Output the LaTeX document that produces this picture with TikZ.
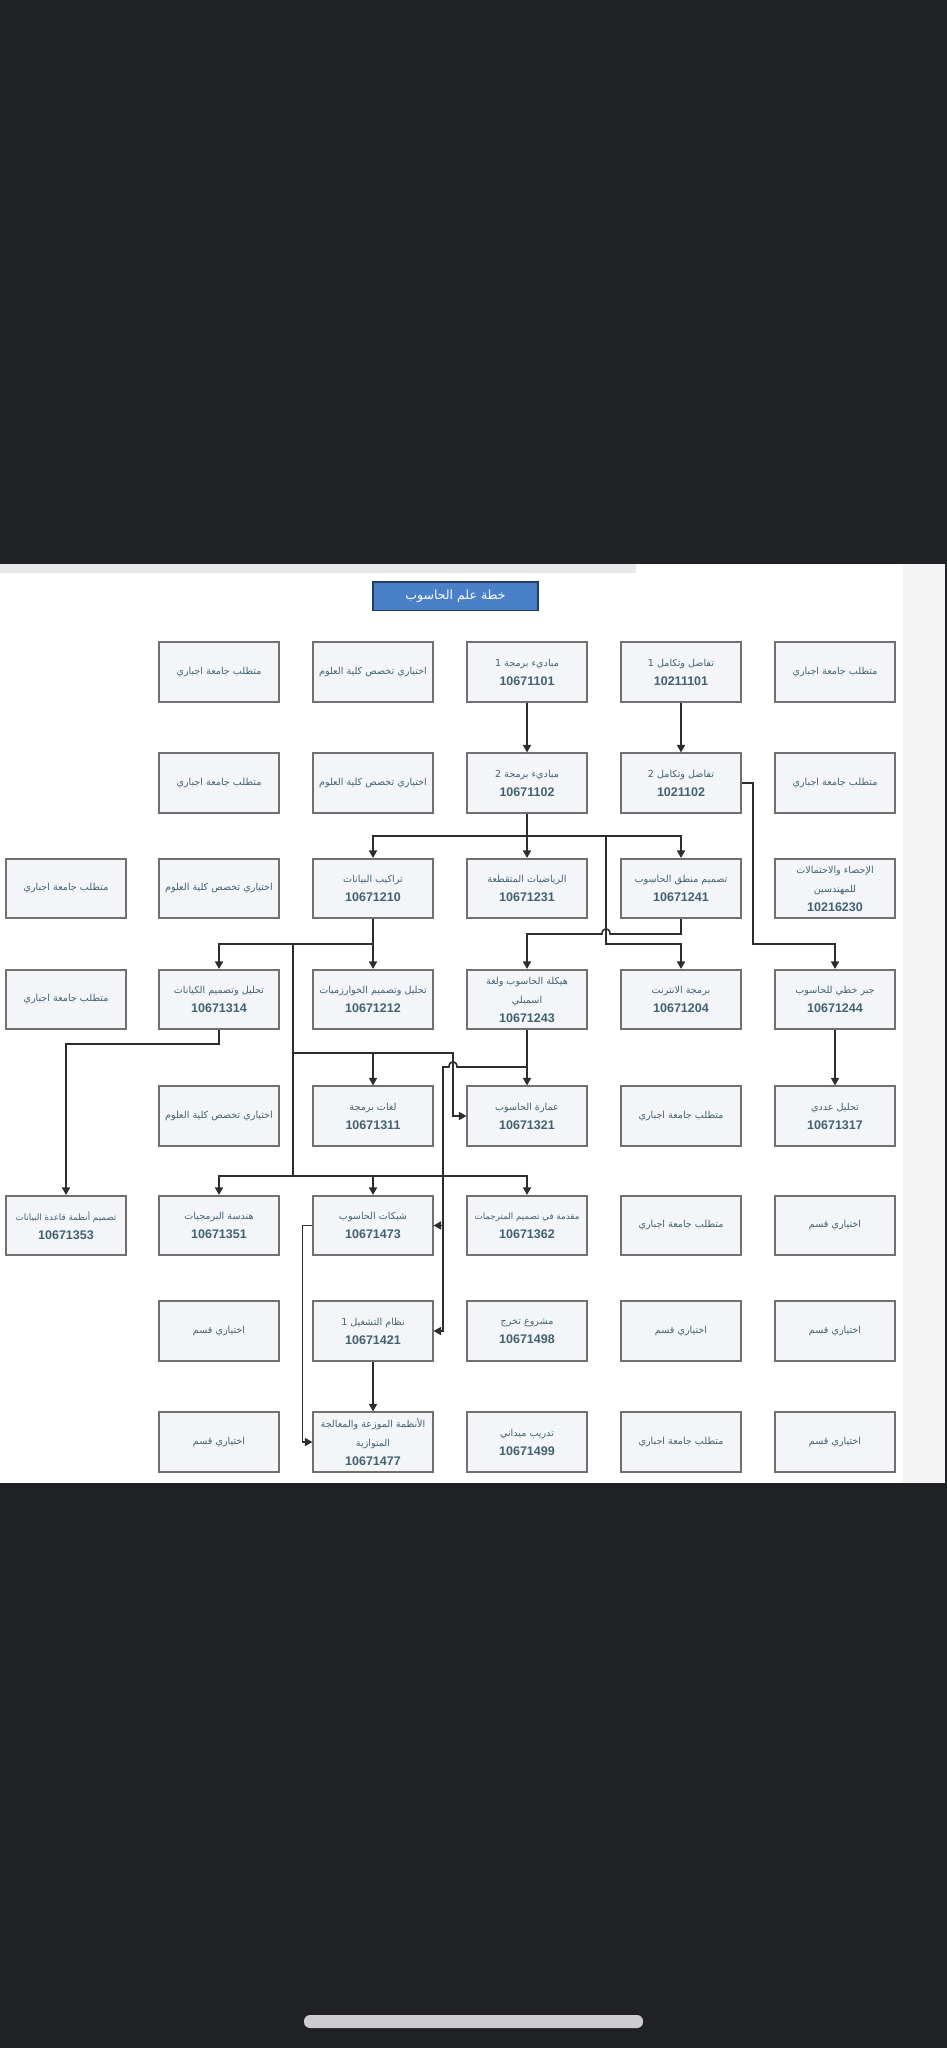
\documentclass[tikz,border=0pt]{standalone}
\usepackage{fontspec}
\setmainfont{Liberation Sans}
\newfontfamily\arabicfont[Script=Arabic]{DejaVu Sans}
\TeXXeTstate=1
\usetikzlibrary{arrows.meta}

\definecolor{pagedark}{RGB}{32,33,36}
\definecolor{stripgray}{RGB}{244,244,244}
\definecolor{topgray}{RGB}{232,232,232}
\definecolor{homebar}{RGB}{205,205,208}
\definecolor{boxfill}{RGB}{243,245,249}
\definecolor{boxline}{RGB}{112,112,112}
\definecolor{coursetext}{RGB}{66,98,112}
\definecolor{titleblue}{RGB}{74,128,200}
\definecolor{titleline}{RGB}{40,58,96}
\definecolor{linkgray}{RGB}{45,45,45}

\newcommand{\artxt}[1]{{\arabicfont\fontsize{9.6}{19}\selectfont\beginR #1\endR}}
\newcommand{\artxtsm}[1]{{\arabicfont\fontsize{8.7}{19}\selectfont\beginR #1\endR}}
\newcommand{\cnum}[1]{{\bfseries #1}}

\begin{document}
\begin{tikzpicture}[
    x=1pt, y=-1pt,
    course/.style={rectangle, draw=boxline, line width=1.6pt, fill=boxfill, minimum width=119.5pt, minimum height=59.5pt, inner sep=0pt, align=center, text=coursetext, font=\fontsize{12.5}{19}\selectfont},
    plan/.style={rectangle, draw=titleline, line width=1.5pt, fill=titleblue, minimum width=165pt, minimum height=28.5pt, inner sep=0pt, text=white},
    link/.style={draw, -{Triangle[length=7.5pt, width=8pt]}, line width=1.6pt, color=linkgray},
    wire/.style={draw, line width=1.6pt, color=linkgray}
]
\useasboundingbox (0,0) rectangle (947,2048);
\fill [pagedark] (0,0) rectangle (947,2048);
\fill [white] (0,564) rectangle (945,1483);
\fill [stripgray] (903,564) rectangle (945,1483);
\fill [topgray] (0,564) rectangle (636,573);
\fill [homebar, rounded corners=6pt] (304,2015) rectangle (643,2028);

\node [plan] (title) at (455.5,596) {{\arabicfont\fontsize{12.5}{14}\selectfont\beginR خطة علم الحاسوب\endR}};

\node [course] (ureq1) at (219,672) {\artxt{متطلب جامعة اجباري}};
\node [course] (sci1) at (373,672) {\artxt{اختياري تخصص كلية العلوم}};
\node [course] (prog1) at (527,672) {\artxt{مباديء برمجة 1}\\\cnum{10671101}};
\node [course] (calc1) at (681,672) {\artxt{تفاضل وتكامل 1}\\\cnum{10211101}};
\node [course] (ureq2) at (835,672) {\artxt{متطلب جامعة اجباري}};

\node [course] (ureq3) at (219,783) {\artxt{متطلب جامعة اجباري}};
\node [course] (sci2) at (373,783) {\artxt{اختياري تخصص كلية العلوم}};
\node [course] (prog2) at (527,783) {\artxt{مباديء برمجة 2}\\\cnum{10671102}};
\node [course] (calc2) at (681,783) {\artxt{تفاضل وتكامل 2}\\\cnum{1021102}};
\node [course] (ureq4) at (835,783) {\artxt{متطلب جامعة اجباري}};

\node [course] (ureq5) at (66,888.5) {\artxt{متطلب جامعة اجباري}};
\node [course] (sci3) at (219,888.5) {\artxt{اختياري تخصص كلية العلوم}};
\node [course] (datastr) at (373,888.5) {\artxt{تراكيب البيانات}\\\cnum{10671210}};
\node [course] (discrete) at (527,888.5) {\artxt{الرياضيات المتقطعة}\\\cnum{10671231}};
\node [course] (logic) at (681,888.5) {\artxt{تصميم منطق الحاسوب}\\\cnum{10671241}};
\node [course] (stats) at (835,888.5) {\artxt{الإحصاء والاحتمالات}\\\artxt{للمهندسين}\\\cnum{10216230}};

\node [course] (ureq6) at (66,999.5) {\artxt{متطلب جامعة اجباري}};
\node [course] (entities) at (219,999.5) {\artxt{تحليل وتصميم الكيانات}\\\cnum{10671314}};
\node [course] (algo) at (373,999.5) {\artxt{تحليل وتصميم الخوارزميات}\\\cnum{10671212}};
\node [course] (asm) at (527,999.5) {\artxt{هيكلة الحاسوب ولغة}\\\artxt{اسمبلي}\\\cnum{10671243}};
\node [course] (web) at (681,999.5) {\artxt{برمجة الانترنت}\\\cnum{10671204}};
\node [course] (linalg) at (835,999.5) {\artxt{جبر خطي للحاسوب}\\\cnum{10671244}};

\node [course] (sci4) at (219,1116) {\artxt{اختياري تخصص كلية العلوم}};
\node [course] (langs) at (373,1116) {\artxt{لغات برمجة}\\\cnum{10671311}};
\node [course] (comparch) at (527,1116) {\artxt{عمارة الحاسوب}\\\cnum{10671321}};
\node [course] (ureq7) at (681,1116) {\artxt{متطلب جامعة اجباري}};
\node [course] (numeric) at (835,1116) {\artxt{تحليل عددي}\\\cnum{10671317}};

\node [course] (dbdesign) at (66,1225.5) {\artxtsm{تصميم أنظمة قاعدة البيانات}\\\cnum{10671353}};
\node [course] (softeng) at (219,1225.5) {\artxt{هندسة البرمجيات}\\\cnum{10671351}};
\node [course] (networks) at (373,1225.5) {\artxt{شبكات الحاسوب}\\\cnum{10671473}};
\node [course] (compilers) at (527,1225.5) {\artxtsm{مقدمة في تصميم المترجمات}\\\cnum{10671362}};
\node [course] (ureq8) at (681,1225.5) {\artxt{متطلب جامعة اجباري}};
\node [course] (dept1) at (835,1225.5) {\artxt{اختياري قسم}};

\node [course] (dept2) at (219,1331) {\artxt{اختياري قسم}};
\node [course] (os) at (373,1331) {\artxt{نظام التشغيل 1}\\\cnum{10671421}};
\node [course] (project) at (527,1331) {\artxt{مشروع تخرج}\\\cnum{10671498}};
\node [course] (dept3) at (681,1331) {\artxt{اختياري قسم}};
\node [course] (dept4) at (835,1331) {\artxt{اختياري قسم}};

\node [course] (dept5) at (219,1442) {\artxt{اختياري قسم}};
\node [course] (distrib) at (373,1442) {\artxt{الأنظمة الموزعة والمعالجة}\\\artxt{المتوازية}\\\cnum{10671477}};
\node [course] (training) at (527,1442) {\artxt{تدريب ميداني}\\\cnum{10671499}};
\node [course] (ureq9) at (681,1442) {\artxt{متطلب جامعة اجباري}};
\node [course] (dept6) at (835,1442) {\artxt{اختياري قسم}};

\coordinate (fork2) at (527,836);
\coordinate (fork2web) at (606,836);
\coordinate (bendweb) at (606,944);
\coordinate (bendlogic) at (681,934);
\coordinate (bendcalc) at (753,944);
\coordinate (fork3) at (373,944);
\coordinate (trunk) at (293,944);
\coordinate (trunklang) at (293,1053);
\coordinate (langsfork) at (373,1053);
\coordinate (bendarch) at (453,1116);
\coordinate (trunkbot) at (293,1176);
\coordinate (netfork) at (373,1176);
\coordinate (archfork) at (527,1067);
\coordinate (osline) at (443,1067);
\coordinate (netin) at (443,1225.5);

\path [link] (prog1) -- (prog2);
\path [link] (calc1) -- (calc2);
\path [link] (prog2) -- (discrete);
\path [link] (fork2) -| (datastr);
\path [link] (fork2) -| (logic);
\path [link] (fork2web) -- (bendweb) -| (web);
\path [link] (logic) -- (bendlogic) -- (610,934) .. controls (610,927) and (602,927) .. (602,934) -| (asm);
\path [link] (calc2) -| (bendcalc) -| (linalg);
\path [link] (linalg) -- (numeric);
\path [link] (datastr) -- (algo);
\path [link] (fork3) -| (entities);
\path [wire] (trunk) -- (trunkbot);
\path [link] (trunklang) -| (bendarch) -- (comparch);
\path [link] (langsfork) -- (langs);
\path [link] (trunkbot) -| (softeng);
\path [link] (trunkbot) -| (compilers);
\path [link] (netfork) -- (networks);
\path [link] (entities.south) -- ++(0,14) -| (dbdesign);
\path [link] (asm) -- (comparch);
\path [link] (archfork) -- (457,1067) .. controls (457,1060) and (449,1060) .. (449,1067) -- (osline) |- (os);
\path [link] (netin) -- (networks);
\path [link] (networks.west) -- ++(-10,0) |- (distrib);
\path [link] (os) -- (distrib);
\end{tikzpicture}
\end{document}
